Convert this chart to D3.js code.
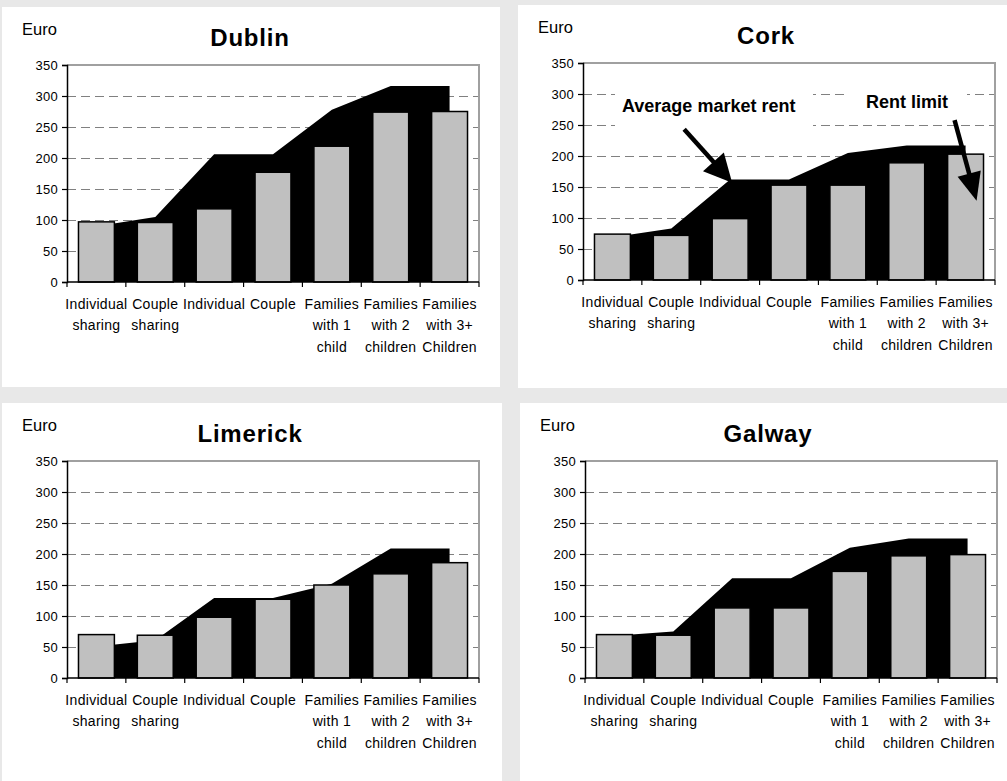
<!DOCTYPE html>
<html>
<head>
<meta charset="utf-8">
<script src="https://cdn.jsdelivr.net/npm/d3@7"></script>
<style>
  html, body { margin: 0; padding: 0; background: #e8e8e8; }
  svg { display: block; font-family: "Liberation Sans", Arial, sans-serif; }
</style>
</head>
<body>
<svg id="chart" width="1007" height="781"></svg>
<script>
// Household types along the category axis (one entry per label line)
const categories = [
  ["Individual", "sharing"],
  ["Couple", "sharing"],
  ["Individual"],
  ["Couple"],
  ["Families", "with 1", "child"],
  ["Families", "with 2", "children"],
  ["Families", "with 3+", "Children"]
];
const yTicks = [0, 50, 100, 150, 200, 250, 300, 350];
const cities = ["Dublin", "Cork", "Limerick", "Galway"];

// Rent limit (bars), euro per week
const dublinLimit   = [97, 96, 118, 177, 219, 274, 275];
const corkLimit     = [74, 72, 99, 153, 153, 189, 203];
const limerickLimit = [70, 69, 98, 127, 150, 168, 186];
const galwayLimit   = [70, 69, 113, 113, 172, 197, 199];

// Average market rent (black area), euro per week
const dublinMarket   = [90, 105, 206, 206, 278, 316, 316];
const corkMarket     = [69, 83, 162, 162, 205, 217, 217];
const limerickMarket = [51, 61, 129, 129, 152, 209, 209];
const galwayMarket   = [68, 75, 161, 161, 210, 225, 225];

const limits  = [dublinLimit, corkLimit, limerickLimit, galwayLimit];
const markets = [dublinMarket, corkMarket, limerickMarket, galwayMarket];

// Panel frames
const panels = [
  { x: 2,   y: 7,   w: 498, h: 380 },
  { x: 518, y: 5,   w: 489, h: 383 },
  { x: 2,   y: 403, w: 500, h: 378 },
  { x: 520, y: 403, w: 487, h: 378 }
];

const svg = d3.select("#chart");
svg.append("rect").attr("width", 1007).attr("height", 781).attr("fill", "#e8e8e8");

const plotW = 412, plotH = 217, plotL = 65, plotT = 58;

cities.forEach((city, ci) => {
  const p = panels[ci];
  const g = svg.append("g").attr("transform", `translate(${p.x},${p.y})`);
  g.append("rect").attr("width", p.w).attr("height", p.h).attr("fill", "#fff");

  g.append("text").attr("x", 20).attr("y", 28)
    .attr("font-size", 16.5).attr("fill", "#000").text("Euro");
  g.append("text").attr("x", 248).attr("y", 39)
    .attr("text-anchor", "middle").attr("font-size", 24).attr("font-weight", "bold")
    .attr("letter-spacing", 0.8).text(city);

  const plot = g.append("g").attr("transform", `translate(${plotL},${plotT})`);

  const idx = d3.range(categories.length);
  const cell = d3.scaleBand().domain(idx).range([0, plotW]);
  const x = d3.scaleBand().domain(idx).range([0, plotW]).paddingInner(0.39).paddingOuter(0.195);
  const y = d3.scaleLinear().domain([0, 350]).range([plotH, 0]);
  const cx = i => x(i) + x.bandwidth() / 2;

  // dashed gridlines
  plot.append("g").selectAll("line")
    .data(yTicks.filter(t => t > 0 && t < 350))
    .join("line")
    .attr("x1", 0).attr("x2", plotW)
    .attr("y1", d => y(d) + 0.5).attr("y2", d => y(d) + 0.5)
    .attr("stroke", "#808080").attr("stroke-width", 1)
    .attr("stroke-dasharray", "9,5");

  // plot frame top and right
  plot.append("path")
    .attr("d", `M0,${y(350)}H${plotW}V${plotH}`)
    .attr("fill", "none").attr("stroke", "#a0a0a0").attr("stroke-width", 2);

  // average market rent area
  const area = d3.area().x((d, i) => cx(i)).y0(y(0)).y1(d => y(d));
  plot.append("path").datum(markets[ci]).attr("d", area).attr("fill", "#000");

  // rent limit bars
  plot.append("g").selectAll("rect")
    .data(limits[ci])
    .join("rect")
    .attr("x", (d, i) => x(i)).attr("width", x.bandwidth())
    .attr("y", d => y(d)).attr("height", d => y(0) - y(d))
    .attr("fill", "#c0c0c0").attr("stroke", "#000").attr("stroke-width", 1.5);

  // y axis
  const yAxis = plot.append("g")
    .call(d3.axisLeft(y).tickValues(yTicks).tickSize(5).tickPadding(4).tickFormat(d3.format("d")));
  yAxis.select(".domain").attr("stroke", "#000").attr("stroke-width", 1.5);
  yAxis.selectAll(".tick line").attr("stroke", "#000").attr("stroke-width", 1.2);
  yAxis.selectAll(".tick text").attr("font-size", 13).attr("fill", "#000")
    .attr("font-family", "Liberation Sans, Arial, sans-serif").attr("letter-spacing", 0.3);

  // x axis with ticks on category boundaries
  const xAxisG = plot.append("g").attr("transform", `translate(0,${plotH})`);
  xAxisG.append("line").attr("x1", 0).attr("x2", plotW).attr("stroke", "#000").attr("stroke-width", 1.5);
  xAxisG.selectAll("line.tk")
    .data(idx.concat([categories.length]))
    .join("line").attr("class", "tk")
    .attr("x1", d => d < categories.length ? cell(d) : plotW)
    .attr("x2", d => d < categories.length ? cell(d) : plotW)
    .attr("y1", 0).attr("y2", 5)
    .attr("stroke", "#000").attr("stroke-width", 1.2);

  const labels = xAxisG.selectAll("text.cat")
    .data(categories)
    .join("text").attr("class", "cat")
    .attr("text-anchor", "middle").attr("font-size", 14).attr("fill", "#000")
    .attr("letter-spacing", 0.3);
  labels.each(function (lines, i) {
    d3.select(this).selectAll("tspan").data(lines).join("tspan")
      .attr("x", cx(i)).attr("y", (d, k) => 26.5 + k * 21.7).text(d => d);
  });

  // annotations for Cork
  if (city === "Cork") {
    const ann = plot.append("g");
    ann.append("rect").attr("x", 615 - 518 - plotL).attr("y", 88 - 5 - plotT)
      .attr("width", 198).attr("height", 42).attr("fill", "#fff");
    ann.append("rect").attr("x", 845 - 518 - plotL).attr("y", 84 - 5 - plotT)
      .attr("width", 122).attr("height", 32).attr("fill", "#fff");
    ann.append("text").attr("x", 622 - 518 - plotL).attr("y", 112 - 5 - plotT)
      .attr("font-size", 18).attr("font-weight", "bold").text("Average market rent");
    ann.append("text").attr("x", 866 - 518 - plotL).attr("y", 108 - 5 - plotT)
      .attr("font-size", 18).attr("font-weight", "bold").text("Rent limit");

    const arrow = (x0, y0, x1, y1, headLen, headW) => {
      const dx = x1 - x0, dy = y1 - y0, L = Math.hypot(dx, dy);
      const ux = dx / L, uy = dy / L;
      const bx = x1 - ux * headLen, by = y1 - uy * headLen;
      ann.append("line").attr("x1", x0).attr("y1", y0).attr("x2", bx + ux * 2).attr("y2", by + uy * 2)
        .attr("stroke", "#000").attr("stroke-width", 4.5);
      ann.append("path")
        .attr("d", `M${x1},${y1}L${bx - uy * headW / 2},${by + ux * headW / 2}L${bx + uy * headW / 2},${by - ux * headW / 2}Z`)
        .attr("fill", "#000");
    };
    arrow(cx(2) - 46, y(243), cx(2) + 2, y(157), 28, 28);
    arrow(cx(6) - 11, y(258), cx(6) + 11, y(128), 28, 24);
  }
});
</script>
</body>
</html>
